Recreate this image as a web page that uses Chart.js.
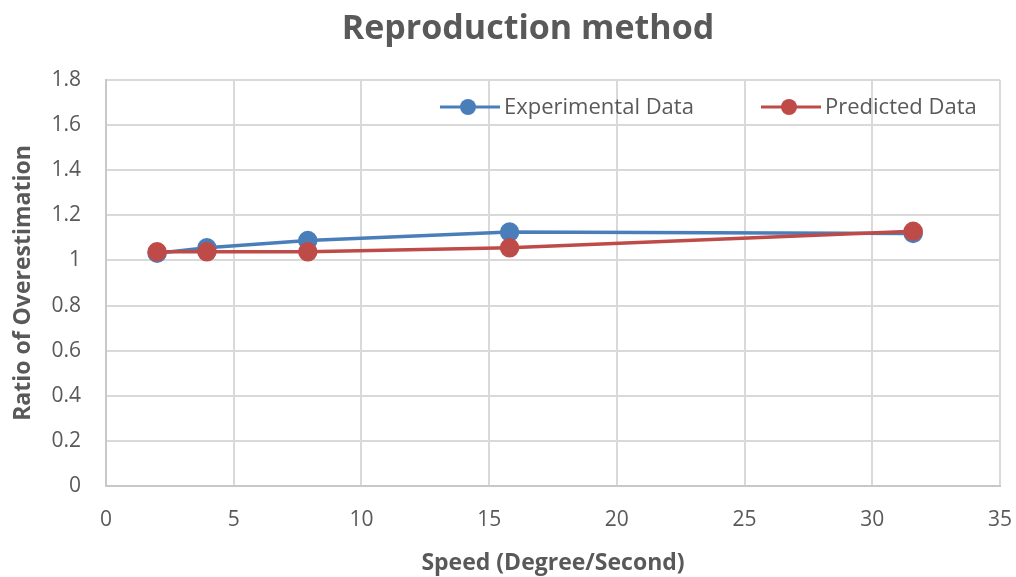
<!DOCTYPE html>
<html>
<head>
<meta charset="utf-8">
<script src="https://cdn.jsdelivr.net/npm/chart.js@4.4.1/dist/chart.umd.min.js"></script>
<style>
  html, body { margin: 0; padding: 0; background: #fff; }
  #wrap { width: 1016px; height: 577px; }
</style>
</head>
<body>
<div id="wrap"><canvas id="chart" width="1016" height="577"></canvas></div>
<script>
// Data
const speeds = [2, 3.95, 7.9, 15.8, 31.6];
const experimental = [1.032, 1.056, 1.088, 1.126, 1.12];
const predicted = [1.038, 1.038, 1.038, 1.056, 1.129];
const seriesNames = ['Experimental Data', 'Predicted Data'];
const chartTitle = 'Reproduction method';
const xTicks = [0, 5, 10, 15, 20, 25, 30, 35];
const yTicks = [0, 0.2, 0.4, 0.6, 0.8, 1, 1.2, 1.4, 1.6, 1.8];

const blue = '#4a7ebb';
const red = '#be4b48';
const grey = '#595959';
const FONT = "'Open Sans', 'Liberation Sans', sans-serif";

const toPoints = ys => speeds.map((x, i) => ({ x, y: ys[i] }));

// title + legend drawn by hand (legend sits inside the plot area)
const decorations = {
  id: 'decorations',
  afterDraw(chart) {
    const ctx = chart.ctx;
    ctx.save();
    ctx.fillStyle = grey;
    ctx.font = `bold 34px ${FONT}`;
    ctx.textAlign = 'center';
    ctx.textBaseline = 'middle';
    ctx.fillText(chartTitle, 528, 29);

    const items = [
      { name: seriesNames[0], color: blue, x: 440 },
      { name: seriesNames[1], color: red, x: 761 },
    ];
    const y = 107;
    items.forEach(it => {
      ctx.strokeStyle = it.color;
      ctx.lineWidth = 3;
      ctx.beginPath();
      ctx.moveTo(it.x, y);
      ctx.lineTo(it.x + 60, y);
      ctx.stroke();
      ctx.fillStyle = it.color;
      ctx.beginPath();
      ctx.arc(it.x + 28, y, 8, 0, Math.PI * 2);
      ctx.fill();
      ctx.fillStyle = grey;
      ctx.font = `22px ${FONT}`;
      ctx.textAlign = 'left';
      ctx.fillText(it.name, it.x + 64, y + 1);
    });
    ctx.restore();
  }
};

const ctx = document.getElementById('chart').getContext('2d');
new Chart(ctx, {
  type: 'line',
  data: {
    datasets: [
      { label: seriesNames[0], data: toPoints(experimental), borderColor: blue, backgroundColor: blue,
        borderWidth: 3.5, pointRadius: 8, pointHoverRadius: 8, tension: 0, order: 1 },
      { label: seriesNames[1], data: toPoints(predicted), borderColor: red, backgroundColor: red,
        borderWidth: 3.5, pointRadius: 8, pointHoverRadius: 8, tension: 0, order: 0 },
    ]
  },
  options: {
    responsive: false,
    animation: false,
    events: [],
    layout: { padding: { left: 0, right: 16, top: 80, bottom: 0 } },
    plugins: {
      legend: { display: false },
      tooltip: { enabled: false },
      title: { display: false }
    },
    scales: {
      x: {
        type: 'linear',
        min: 0, max: 35,
        afterBuildTicks: s => { s.ticks = xTicks.map(v => ({ value: v })); },
        afterFit: s => { s.height = 91; s.paddingLeft = 0; s.paddingRight = 0; },
        grid: { color: '#d9d9d9', lineWidth: 2, drawTicks: false },
        border: { color: '#c8c8c8', width: 2 },
        ticks: { color: grey, padding: 21, font: { family: FONT, size: 21 }, maxRotation: 0 },
        title: {
          display: true, text: 'Speed (Degree/Second)', color: grey,
          font: { family: FONT, size: 23, weight: 'bold' }, padding: { top: 8, bottom: 0 }
        }
      },
      y: {
        min: 0, max: 1.8,
        afterBuildTicks: s => { s.ticks = yTicks.map(v => ({ value: v })); },
        afterFit: s => { s.width = 106; s.paddingTop = 0; s.paddingBottom = 0; },
        grid: { color: '#d9d9d9', lineWidth: 2, drawTicks: false },
        border: { color: '#c8c8c8', width: 2 },
        ticks: {
          color: grey, padding: 25, font: { family: FONT, size: 21 },
          callback: v => String(Number(v.toFixed(1)))
        },
        title: {
          display: true, text: 'Ratio of Overestimation', color: grey,
          font: { family: FONT, size: 23, weight: 'bold' }, padding: { top: 10, bottom: 0 }
        }
      }
    }
  },
  plugins: [decorations]
});
</script>
</body>
</html>
